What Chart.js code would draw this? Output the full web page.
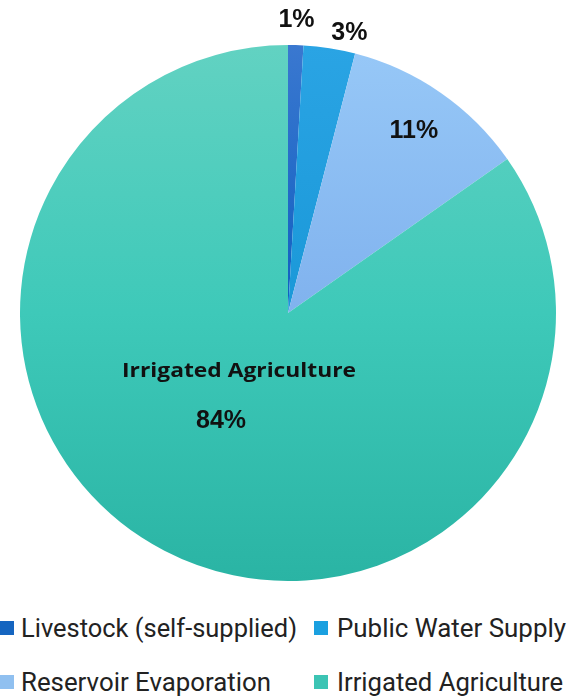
<!DOCTYPE html>
<html>
<head>
<meta charset="utf-8">
<script src="https://cdn.jsdelivr.net/npm/chart.js@4/dist/chart.umd.min.js"></script>
<style>
    html, body { margin: 0; padding: 0; background: #fff; }
    #wrap { position: relative; width: 576px; height: 696px; }
    #pie { position: absolute; left: 0; top: 0; }
    .legend { position: absolute; left: 0; top: 611px; width: 576px; }
    .item { position: absolute; display: flex; align-items: center; white-space: nowrap;
            font-family: Roboto, sans-serif; font-size: 26px; color: #222; line-height: 34px; }
    .box { width: 14px; height: 14px; display: inline-block; }
</style>
</head>
<body>
<div id="wrap">
    <canvas id="pie" width="576" height="600"></canvas>
    <div class="legend" id="legend"></div>
</div>
<script>
// 데이터
const categories = ['Livestock (self-supplied)', 'Public Water Supply', 'Reservoir Evaporation', 'Irrigated Agriculture'];
const shares = [0.92, 3.11, 11.22, 84.75];
const pctLabels = ['1%', '3%', '11%', '84%'];

// 색상 (위/아래 그라데이션)
const topColors = ['#3a78d0', '#2aa4e4', '#97c8f7', '#62d2c2'];
const midColors = ['#0f5fc0', '#1a98d8', '#80b2ee', '#3ec9b9'];
const bottomColors = ['#0052b8', '#0a88cc', '#6a9ee6', '#2ab4a4'];
const legendColors = ['#1565c0', '#1aa0e0', '#90c0f0', '#3cc4b4'];

function sliceGradient(context) {
    const chart = context.chart;
    const area = chart.chartArea;
    const i = context.dataIndex;
    if (!area) return topColors[i];
    const g = chart.ctx.createLinearGradient(0, area.top, 0, area.bottom);
    g.addColorStop(0, topColors[i]);
    g.addColorStop(0.5, midColors[i]);
    g.addColorStop(1, bottomColors[i]);
    return g;
}

// 라벨 그리기 플러그인
const sliceLabels = {
    id: 'sliceLabels',
    afterDatasetsDraw(chart) {
        const ctx = chart.ctx;
        const arcs = chart.getDatasetMeta(0).data;
        // 반지름 비율, 각도 보정
        const radial = [1.093, 1.07, 0.825, 0.475];
        const turn = [0, 0.06, 0, 0.075];
        ctx.save();
        ctx.fillStyle = '#111';
        ctx.textAlign = 'center';
        ctx.textBaseline = 'middle';
        arcs.forEach((arc, i) => {
            const mid = (arc.startAngle + arc.endAngle) / 2 + turn[i];
            const r = arc.outerRadius * radial[i];
            const x = arc.x + Math.cos(mid) * r;
            const y = arc.y + Math.sin(mid) * r;
            ctx.font = 'bold 25px "Liberation Sans", Arial, sans-serif';
            ctx.fillText(pctLabels[i], x, y);
            if (i === 3) {
                // 카테고리 이름 (폭 234px 맞춤)
                ctx.font = 'bold 20px "Open Sans", sans-serif';
                const w = ctx.measureText(categories[i]).width;
                ctx.save();
                ctx.translate(x + 18, y - 50);
                ctx.scale(234 / w, 1);
                ctx.fillText(categories[i], 0, 0);
                ctx.restore();
            }
        });
        ctx.restore();
    }
};

new Chart(document.getElementById('pie'), {
    type: 'pie',
    data: {
        labels: categories,
        datasets: [{
            data: shares,
            backgroundColor: sliceGradient,
            borderWidth: 0
        }]
    },
    options: {
        responsive: false,
        animation: false,
        layout: { padding: { top: 45, bottom: 19, left: 20, right: 20 } },
        plugins: {
            legend: { display: false },
            tooltip: { enabled: false }
        }
    },
    plugins: [sliceLabels]
});

// 범례 (좁은 글꼴 대신 가로 압축)
const legendEl = document.getElementById('legend');
const boxX = [0, 314, 0, 314];
const textX = [21, 337, 21, 337];
const rowOrder = [0, 0, 1, 1];
const textWidth = [276, 229, 250, 226];
categories.forEach((name, i) => {
    const box = document.createElement('span');
    box.className = 'box';
    box.style.position = 'absolute';
    box.style.background = legendColors[i];
    box.style.left = boxX[i] + 'px';
    box.style.top = (rowOrder[i] * 54 + 10) + 'px';
    legendEl.appendChild(box);

    const item = document.createElement('div');
    item.className = 'item';
    item.style.left = textX[i] + 'px';
    item.style.top = (rowOrder[i] * 54) + 'px';
    const txt = document.createElement('span');
    txt.textContent = name;
    txt.style.display = 'inline-block';
    txt.style.transformOrigin = 'left center';
    item.appendChild(txt);
    legendEl.appendChild(item);
    const w = txt.getBoundingClientRect().width;
    txt.style.transform = 'scaleX(' + (textWidth[i] / w) + ')';
});
</script>
</body>
</html>
